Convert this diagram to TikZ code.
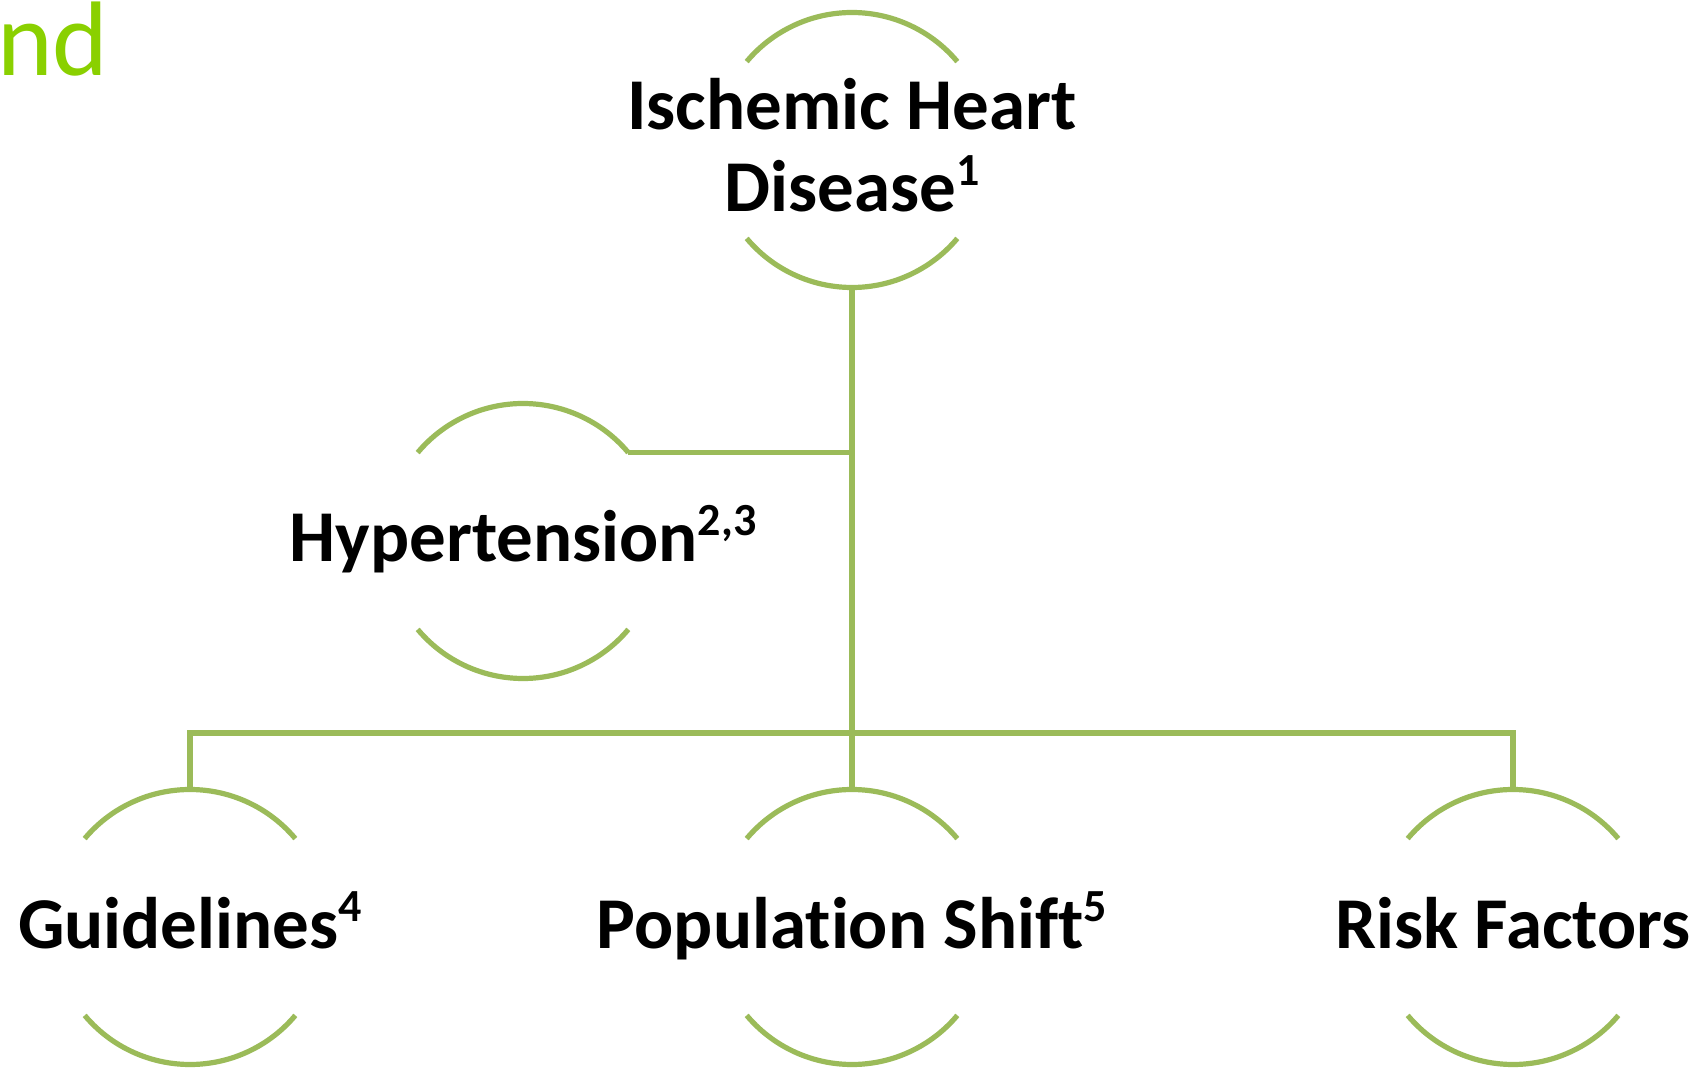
\documentclass[tikz,border=0pt]{standalone}
\usepackage{fontspec}
\setmainfont{Carlito}[Ligatures=NoCommon]
\definecolor{linegreen}{HTML}{9BBB59}
\definecolor{titlegreen}{RGB}{138,208,0}
\newcommand{\mysup}[1]{\raisebox{0.36em}{\fontsize{23}{23}\selectfont #1}}
\begin{document}
\begin{tikzpicture}[x=0.5pt,y=-0.5pt,
  ring/.style={circle, minimum size=137.5pt, inner sep=0pt, outer sep=0pt},
  arcline/.style={draw=linegreen, line width=2.6pt},
  conn/.style={draw=linegreen, line width=2.6pt},
  lbl/.style={font=\fontsize{36.5}{41}\selectfont\bfseries, text=black, inner sep=0pt, align=center},
  titl/.style={font=\fontsize{53}{60}\selectfont, text=titlegreen, inner sep=0pt}]
\useasboundingbox (0,0) rectangle (1704,1074);
\fill[white] (0,0) rectangle (1704,1074);

% title fragment
\node[titl, anchor=base east] (ttl) at (109,76) {nd};

% rings
\node[ring] (top) at (852,150) {};
\node[ring] (hyp) at (523,541) {};
\node[ring] (gui) at (190,927) {};
\node[ring] (pop) at (852,927) {};
\node[ring] (rsk) at (1513,927) {};

\foreach \n in {top,hyp,gui,pop,rsk}{
  \draw[arcline] (\n.40) arc[start angle=40, end angle=140, radius=68.75pt];
  \draw[arcline] (\n.220) arc[start angle=220, end angle=320, radius=68.75pt];
}

% labels
\node[lbl, anchor=base] (topt) at (852,212) {Ischemic Heart\\Disease\mysup{1}};
\node[lbl, anchor=base] (hypt) at (523,562) {Hypertension\mysup{2,3}};
\node[lbl, anchor=base] (guit) at (190,948) {Guidelines\mysup{4}};
\node[lbl, anchor=base] (popt) at (852,948) {Population Shift\mysup{5}};
\node[lbl, anchor=base] (rskt) at (1513,948) {Risk Factors};

% connectors
\coordinate (bus) at (852,733);
\draw[conn] (top.south) -- (pop.north);
\draw[conn] (hyp.40) -- (hyp.40 -| top.south);
\draw[conn] (gui.north) |- (bus) -| (rsk.north);
\end{tikzpicture}
\end{document}
